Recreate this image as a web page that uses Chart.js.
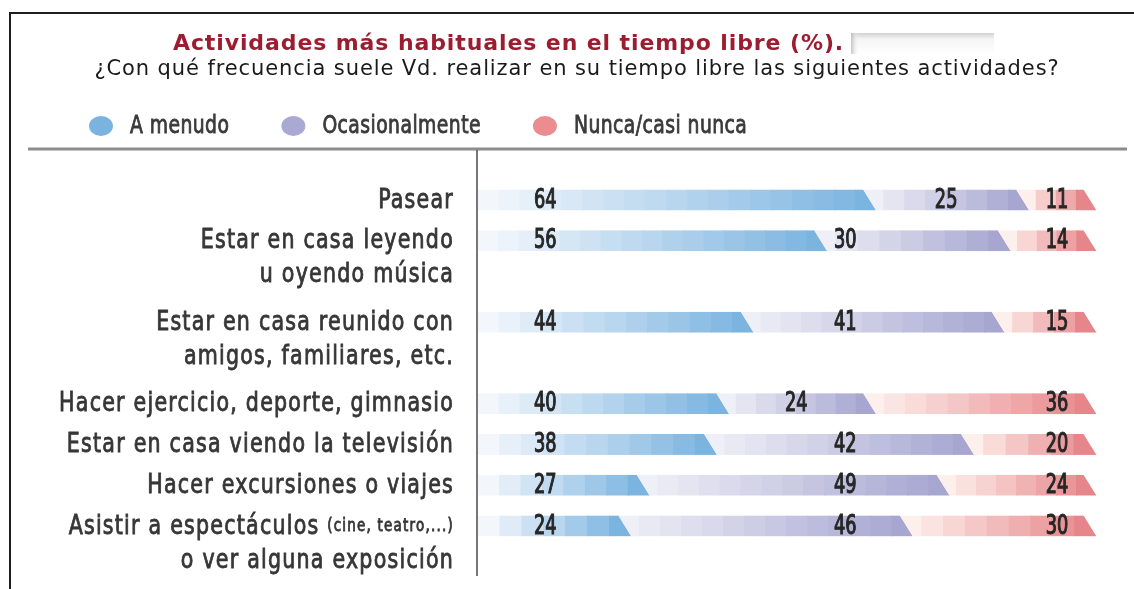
<!DOCTYPE html>
<html lang="es">
<head>
<meta charset="utf-8">
<title>Actividades más habituales en el tiempo libre</title>
<script src="https://cdn.jsdelivr.net/npm/chart.js@4.4.1/dist/chart.umd.min.js"></script>
<style>
  html, body { margin: 0; padding: 0; background: #fff; }
  .chart__body { position: relative; width: 1134px; height: 589px; }
</style>
</head>
<body>
<div class="chart__body"><canvas id="myChart"></canvas></div>
<script>
// Datos
const categories = [
  ["Pasear"],
  ["Estar en casa leyendo", "u oyendo música"],
  ["Estar en casa reunido con", "amigos, familiares, etc."],
  ["Hacer ejercicio, deporte, gimnasio"],
  ["Estar en casa viendo la televisión"],
  ["Hacer excursiones o viajes"],
  ["Asistir a espectáculos (cine, teatro,...)", "o ver alguna exposición"],
];
const seriesNames = ["A menudo", "Ocasionalmente", "Nunca/casi nunca"];
const aMenudo = [64, 56, 44, 40, 38, 27, 24];
const ocasionalmente = [25, 30, 41, 24, 42, 49, 46];
const nuncaCasiNunca = [11, 14, 15, 36, 20, 24, 30];

const titleText = "Actividades más habituales en el tiempo libre (%).";
const subtitleText = "¿Con qué frecuencia suele Vd. realizar en su tiempo libre las siguientes actividades?";

// Colores: claro -> oscuro
const palette = [
  { light: [243, 247, 252], dark: [124, 180, 224], legend: "#7bb3df" },
  { light: [239, 239, 247], dark: [166, 166, 209], legend: "#a9a9d4" },
  { light: [253, 240, 236], dark: [231, 134, 138], legend: "#eb8d8f" },
];
const condensed = "'DejaVu Sans Condensed', 'Liberation Sans Narrow', sans-serif";

// Filas: una fila vacía después de las etiquetas de dos líneas
const rowLabels = [];
const rowIndex = [];
categories.forEach((lines, i) => {
  rowLabels.push(lines.join(" "));
  rowIndex.push(i);
  if (lines.length > 1) {
    rowLabels.push("");
    rowIndex.push(-1);
  }
});
const padRows = (arr) => rowIndex.map((i) => (i < 0 ? null : arr[i]));

const mix = (a, b, t) =>
  "rgb(" + a.map((v, i) => Math.round(v + (b[i] - v) * t)).join(",") + ")";

// texto estrecho: se comprime en horizontal (y se engrosa un poco si stroke > 0)
function narrowText(ctx, text, x, y, sx, align, stroke) {
  ctx.save();
  ctx.translate(x, y);
  ctx.scale(sx, 1);
  ctx.textAlign = align;
  if (stroke) {
    ctx.lineWidth = stroke;
    ctx.strokeStyle = ctx.fillStyle;
    ctx.strokeText(text, 0, 0);
  }
  ctx.fillText(text, 0, 0);
  ctx.restore();
}

// Barra con el borde derecho inclinado y degradado por bandas
function drawSegment(ctx, left, right, top, bottom, k) {
  const d = 6.5;
  const first = k === 0;
  const lt = first ? left : left - d;
  const lb = first ? left : left + d;
  ctx.save();
  ctx.beginPath();
  ctx.moveTo(lt, top);
  ctx.lineTo(right - d, top);
  ctx.lineTo(right + d, bottom);
  ctx.lineTo(lb, bottom);
  ctx.closePath();
  ctx.clip();
  const x0 = Math.min(lt, lb);
  const x1 = right + d;
  const n = Math.max(4, Math.round((x1 - x0) / 21));
  const w = (x1 - x0) / n;
  for (let i = 0; i < n; i++) {
    ctx.fillStyle = mix(palette[k].light, palette[k].dark, i / (n - 1));
    ctx.fillRect(x0 + i * w - 0.5, top, w + 1, bottom - top);
  }
  ctx.restore();
}

const barsPlugin = {
  id: "slantedBars",
  beforeDraw(chart) {
    // espaciado de letras para título y subtítulo
    chart.ctx.letterSpacing = "0.9px";
  },
  beforeDatasetsDraw(chart) {
    const ctx = chart.ctx;
    ctx.letterSpacing = "0px";
    chart.data.datasets.forEach((ds, k) => {
      chart.getDatasetMeta(k).data.forEach((bar, j) => {
        if (ds.data[j] == null) return;
        const p = bar.getProps(["x", "y", "base", "height"], true);
        drawSegment(ctx, p.base, p.x, p.y - p.height / 2, p.y + p.height / 2, k);
      });
    });
    return false;
  },
  afterDraw(chart) {
    const ctx = chart.ctx;
    const area = chart.chartArea;
    const xs = chart.scales.x;
    const ys = chart.scales.y;
    ctx.save();

    // valores
    ctx.font = "26px " + condensed;
    ctx.letterSpacing = "0px";
    ctx.fillStyle = "#262626";
    ctx.textBaseline = "middle";
    categories.forEach((_, i) => {
      const y = ys.getPixelForValue(rowIndex.indexOf(i)) + 1;
      const a = aMenudo[i], b = ocasionalmente[i], c = nuncaCasiNunca[i];
      const mid = a + 3 < 60 && a + b - 8 > 60 ? 60 : a + b / 2;
      narrowText(ctx, String(a), xs.getPixelForValue(11), y, 0.76, "center", 1.1);
      narrowText(ctx, String(b), xs.getPixelForValue(mid), y, 0.76, "center", 1.1);
      narrowText(ctx, String(c), xs.getPixelForValue(94.6), y, 0.76, "center", 1.1);
    });

    // marco
    ctx.strokeStyle = "#1e1e1e";
    ctx.lineWidth = 2;
    ctx.beginPath();
    ctx.moveTo(10, chart.height);
    ctx.lineTo(10, 13);
    ctx.lineTo(chart.width, 13);
    ctx.stroke();

    // recuadro junto al título
    const tb = chart.titleBlock;
    const tf = tb.options.font;
    ctx.font = tf.weight + " " + tf.size + "px " + tf.family;
    ctx.letterSpacing = "0.9px";
    const fullW = ctx.measureText(tb.options.text).width;
    const textW = ctx.measureText(titleText).width;
    const cx = (tb.left + tb.right) / 2;
    const bx = cx - fullW / 2 + textW + 7;
    const grad = ctx.createLinearGradient(0, 33, 0, 54);
    grad.addColorStop(0, "#d2d2d2");
    grad.addColorStop(0.3, "#f5f5f5");
    grad.addColorStop(1, "#ffffff");
    ctx.fillStyle = grad;
    ctx.fillRect(bx, 33, 143, 21);
    const gradL = ctx.createLinearGradient(bx, 0, bx + 8, 0);
    gradL.addColorStop(0, "rgba(180,180,180,0.8)");
    gradL.addColorStop(1, "rgba(255,255,255,0)");
    ctx.fillStyle = gradL;
    ctx.fillRect(bx, 33, 8, 21);

    // leyenda
    ctx.font = "24px " + condensed;
    ctx.letterSpacing = "0.5px";
    ctx.textBaseline = "middle";
    const lsx = 0.87;
    let lx = 89;
    seriesNames.forEach((name, k) => {
      ctx.fillStyle = palette[k].legend;
      ctx.beginPath();
      ctx.ellipse(lx + 12, 126, 12, 10, 0, 0, Math.PI * 2);
      ctx.fill();
      ctx.fillStyle = "#3a3a3a";
      narrowText(ctx, name, lx + 41, 127, lsx, "left", 0.8);
      lx += 41 + ctx.measureText(name).width * lsx + 52;
    });

    // líneas
    ctx.strokeStyle = "#8c8c8c";
    ctx.lineWidth = 3;
    ctx.beginPath();
    ctx.moveTo(28, 149);
    ctx.lineTo(1127, 149);
    ctx.stroke();
    ctx.strokeStyle = "#4a4a4a";
    ctx.lineWidth = 1.5;
    ctx.beginPath();
    ctx.moveTo(area.left - 1, 150);
    ctx.lineTo(area.left - 1, 576);
    ctx.stroke();

    // etiquetas de categorías
    const right = area.left - 24;
    const sx = 0.88;
    ctx.fillStyle = "#363636";
    ctx.letterSpacing = "1.4px";
    categories.forEach((lines, i) => {
      const y0 = ys.getPixelForValue(rowIndex.indexOf(i)) + 1;
      lines.forEach((line, li) => {
        const parts = line.split(/(\(.*?\))/).filter((s) => s.length);
        const fonts = parts.map((s) => (s.startsWith("(") ? "17px " : "26px ") + condensed);
        const widths = parts.map((s, pi) => {
          ctx.font = fonts[pi];
          return ctx.measureText(s).width * sx;
        });
        let x = right - widths.reduce((s, w) => s + w, 0);
        parts.forEach((s, pi) => {
          ctx.font = fonts[pi];
          narrowText(ctx, s, x, y0 + li * 34, sx, "left", 0.8);
          x += widths[pi];
        });
      });
    });
    ctx.restore();
  },
};

const data = {
  labels: rowLabels,
  datasets: [aMenudo, ocasionalmente, nuncaCasiNunca].map((values, k) => ({
    label: seriesNames[k],
    data: padRows(values),
    backgroundColor: palette[k].legend,
    barThickness: 21,
  })),
};

const config = {
  type: "bar",
  data,
  options: {
    indexAxis: "y",
    responsive: true,
    maintainAspectRatio: false,
    animation: false,
    layout: { padding: { left: 64, right: 44, top: 0, bottom: 2 } },
    scales: {
      x: { stacked: true, min: 0, max: 100, display: false },
      y: {
        stacked: true,
        grid: { display: false },
        border: { display: false },
        ticks: { display: false },
        afterFit(scale) {
          scale.width = 414;
        },
      },
    },
    plugins: {
      legend: { display: false },
      tooltip: { enabled: false },
      title: {
        display: true,
        text: titleText + "\u00a0".repeat(16),
        color: "#9c1c30",
        font: { family: "DejaVu Sans", size: 22, weight: "bold" },
        padding: { top: 31, bottom: 0 },
      },
      subtitle: {
        display: true,
        text: subtitleText,
        color: "#1a1a1a",
        font: { family: "DejaVu Sans", size: 21 },
        padding: { top: 0, bottom: 97 },
      },
    },
  },
  plugins: [barsPlugin],
};

const myChart = new Chart(document.getElementById("myChart"), config);
</script>
</body>
</html>
